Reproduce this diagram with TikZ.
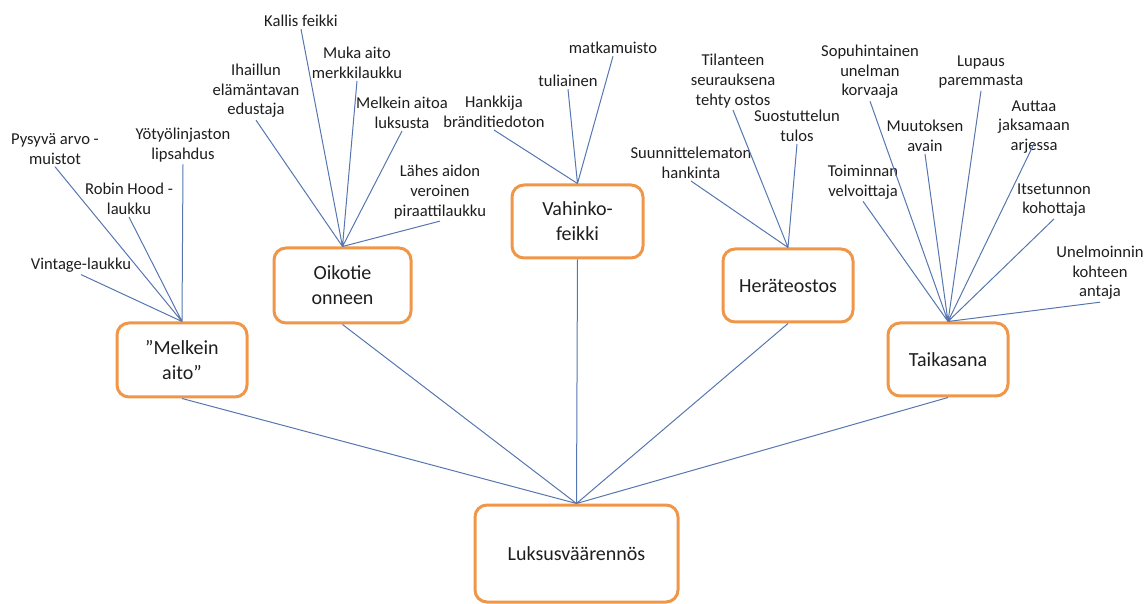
\documentclass[tikz,border=0pt]{standalone}
\usepackage{fontspec}
\setmainfont{Carlito}
\usepackage{tikz}
\definecolor{boxorange}{RGB}{240,150,72}
\definecolor{linkblue}{RGB}{86,118,176}
\definecolor{txtgray}{RGB}{30,30,30}

\begin{document}
\begin{tikzpicture}[
    x=0.5pt, y=-0.5pt,
    box/.style={draw=boxorange, line width=1.5pt, rounded corners=6pt, fill=white, align=center, text=txtgray, font=\fontsize{10}{12.5}\selectfont},
    leaf/.style={align=center, inner sep=1pt, text=txtgray, font=\fontsize{8.3}{9.8}\selectfont},
    lnk/.style={draw=linkblue, line width=0.5pt}
]
\useasboundingbox (0,0) rectangle (1147,604);

% boxes
\node[box, minimum width=101.5pt, minimum height=48.5pt] (root) at (576.5,553.5) {Luksusväärennös};
\node[box, minimum width=65pt, minimum height=37pt] (ma) at (182,360) {”Melkein\\aito”};
\node[box, minimum width=68.5pt, minimum height=37.5pt] (oo) at (342.5,285.5) {Oikotie\\onneen};
\node[box, minimum width=65.5pt, minimum height=36.5pt] (vf) at (577.5,221.5) {Vahinko-\\feikki};
\node[box, minimum width=65pt, minimum height=36.5pt] (ho) at (788,285.5) {Heräteostos};
\node[box, minimum width=60pt, minimum height=36.5pt] (ts) at (948,359.5) {Taikasana};

% Melkein aito
\node[leaf] (ma1) at (55,149) {Pysyvä arvo -\\muistot};
\node[leaf] (ma2) at (129,199) {Robin Hood -\\laukku};
\node[leaf] (ma3) at (183,145) {Yötyölinjaston\\lipsahdus};
\node[leaf] (ma4) at (81,265) {Vintage-laukku};

% Oikotie onneen
\node[leaf] (oo1) at (301,21) {Kallis feikki};
\node[leaf] (oo2) at (357,63) {Muka aito\\merkkilaukku};
\node[leaf] (oo3) at (256,91) {Ihaillun\\elämäntavan\\edustaja};
\node[leaf] (oo4) at (402,113) {Melkein aitoa\\luksusta};
\node[leaf] (oo5) at (440,192) {Lähes aidon\\veroinen\\piraattilaukku};

% Vahinkofeikki
\node[leaf] (vf1) at (613,48) {matkamuisto};
\node[leaf] (vf2) at (568,81) {tuliainen};
\node[leaf] (vf3) at (494,112) {Hankkija\\bränditiedoton};

% Heräteostos
\node[leaf] (ho1) at (733,81) {Tilanteen\\seurauksena\\tehty ostos};
\node[leaf] (ho2) at (797,126) {Suostuttelun\\tulos};
\node[leaf] (ho3) at (691,163) {Suunnittelematon\\hankinta};

% Taikasana
\node[leaf] (ts1) at (870,72) {Sopuhintainen\\unelman\\korvaaja};
\node[leaf] (ts2) at (981,72) {Lupaus\\paremmasta};
\node[leaf] (ts3) at (925,136) {Muutoksen\\avain};
\node[leaf] (ts4) at (1034,127) {Auttaa\\jaksamaan\\arjessa};
\node[leaf] (ts5) at (863,182) {Toiminnan\\velvoittaja};
\node[leaf] (ts6) at (1054,200) {Itsetunnon\\kohottaja};
\node[leaf] (ts7) at (1100,273) {Unelmoinnin\\kohteen\\antaja};

% links
\draw[lnk] (ma.south) -- (root.north) (oo.south) -- (root.north) (vf.south) -- (root.north)
    (ho.south) -- (root.north) (ts.south) -- (root.north);
\draw[lnk] (ma1.south) -- (ma.north) (ma2.south) -- (ma.north) (ma3.south) -- (ma.north) (ma4.south) -- (ma.north);
\draw[lnk] (oo1.south) -- (oo.north) (oo2.south) -- (oo.north) (oo3.south) -- (oo.north)
    (oo4.south) -- (oo.north) (oo5.south) -- (oo.north);
\draw[lnk] (vf1.south) -- (vf.north) (vf2.south) -- (vf.north) (vf3.south) -- (vf.north);
\draw[lnk] (ho1.south) -- (ho.north) (ho2.south) -- (ho.north) (ho3.south) -- (ho.north);
\draw[lnk] (ts1.south) -- (ts.north) (ts2.south) -- (ts.north) (ts3.south) -- (ts.north)
    ([yshift=6pt]ts4.south) -- (ts.north) (ts5.south) -- (ts.north) (ts6.south) -- (ts.north) (ts7.south) -- (ts.north);
\end{tikzpicture}
\end{document}
